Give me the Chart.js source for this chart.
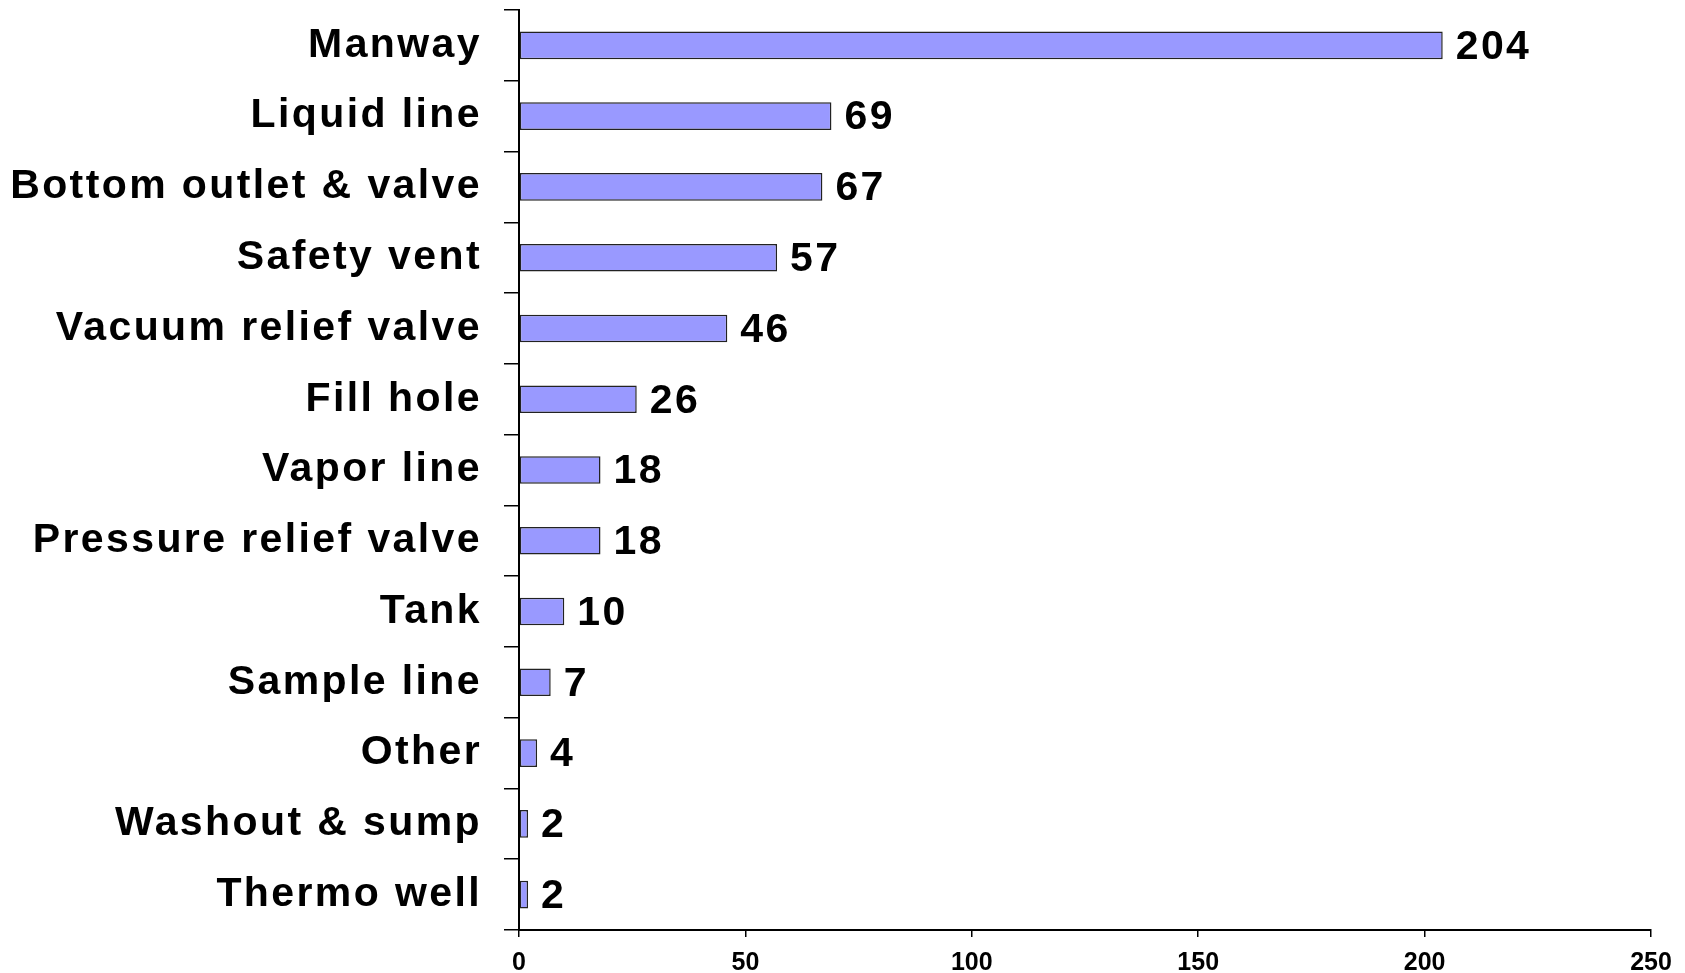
<!DOCTYPE html>
<html>
<head>
<meta charset="utf-8">
<script src="https://cdn.jsdelivr.net/npm/chart.js@4.4.1/dist/chart.umd.min.js"></script>
<style>
  html, body { margin: 0; background: #fff; }
  #wrap { width: 1685px; height: 973px; }
</style>
</head>
<body>
<div id="wrap"><canvas id="chart"></canvas></div>
<script>
  /* ---- data ---- */
  const CATEGORIES = [
    "Manway",
    "Liquid line",
    "Bottom outlet & valve",
    "Safety vent",
    "Vacuum relief valve",
    "Fill hole",
    "Vapor line",
    "Pressure relief valve",
    "Tank",
    "Sample line",
    "Other",
    "Washout & sump",
    "Thermo well",
  ];
  const COUNTS = [204, 69, 67, 57, 46, 26, 18, 18, 10, 7, 4, 2, 2];
  const X_MIN = 0;
  const X_MAX = 250;
  const X_STEP = 50;

  /* ---- look ---- */
  const LABEL_FONT = "'Liberation Sans', Arial, sans-serif";
  const LABEL_SIZE = 41;
  const LABEL_SPACING = "2.4px";

  // wider letter spacing on category labels (canvas letterSpacing)
  const spacedLabels = {
    id: "spacedLabels",
    beforeDraw(chart) {
      const y = chart.scales.y;
      if (!y || y.__spaced) return;
      const base = y.drawLabels;
      y.drawLabels = function (area) {
        const prev = this.ctx.letterSpacing;
        this.ctx.letterSpacing = LABEL_SPACING;
        base.call(this, area);
        this.ctx.letterSpacing = prev || "0px";
      };
      y.__spaced = true;
    },
  };

  // value at the end of every bar
  const valueLabels = {
    id: "valueLabels",
    afterDatasetsDraw(chart) {
      const { ctx } = chart;
      const meta = chart.getDatasetMeta(0);
      ctx.save();
      ctx.letterSpacing = LABEL_SPACING;
      ctx.font = `bold ${LABEL_SIZE}px ${LABEL_FONT}`;
      ctx.fillStyle = "#000";
      ctx.textAlign = "left";
      ctx.textBaseline = "middle";
      meta.data.forEach((bar, i) => {
        ctx.fillText(String(COUNTS[i]), bar.x + 13, bar.y + 2);
      });
      ctx.restore();
    },
  };

  new Chart(document.getElementById("chart"), {
    type: "bar",
    data: {
      labels: CATEGORIES,
      datasets: [
        {
          data: COUNTS,
          backgroundColor: "#9999ff",
          borderColor: "#222",
          borderWidth: 1.5,
          borderSkipped: false,
          barPercentage: 0.39,
          categoryPercentage: 1,
        },
      ],
    },
    options: {
      indexAxis: "y",
      responsive: true,
      maintainAspectRatio: false,
      animation: false,
      layout: { padding: { top: 10, right: 34, left: 0, bottom: 0 } },
      plugins: { legend: { display: false }, tooltip: { enabled: false } },
      scales: {
        y: {
          grid: {
            offset: true,
            drawOnChartArea: false,
            tickLength: 15,
            color: "#000",
            lineWidth: 1.5,
          },
          border: { color: "#000", width: 2 },
          ticks: {
            color: "#000",
            padding: 22,
            font: { family: LABEL_FONT, size: LABEL_SIZE, weight: "bold" },
          },
          afterFit: (s) => {
            s.width = 519;
            s.paddingTop = 0;
            s.paddingBottom = 0;
          },
        },
        x: {
          min: X_MIN,
          max: X_MAX,
          grid: {
            drawOnChartArea: false,
            tickLength: 7,
            color: "#000",
            lineWidth: 1.5,
          },
          border: { color: "#000", width: 2 },
          ticks: {
            stepSize: X_STEP,
            color: "#000",
            padding: 11,
            font: { family: LABEL_FONT, size: 25, weight: "bold" },
          },
          afterFit: (s) => {
            s.height = 43;
          },
        },
      },
    },
    plugins: [spacedLabels, valueLabels],
  });
</script>
</body>
</html>
